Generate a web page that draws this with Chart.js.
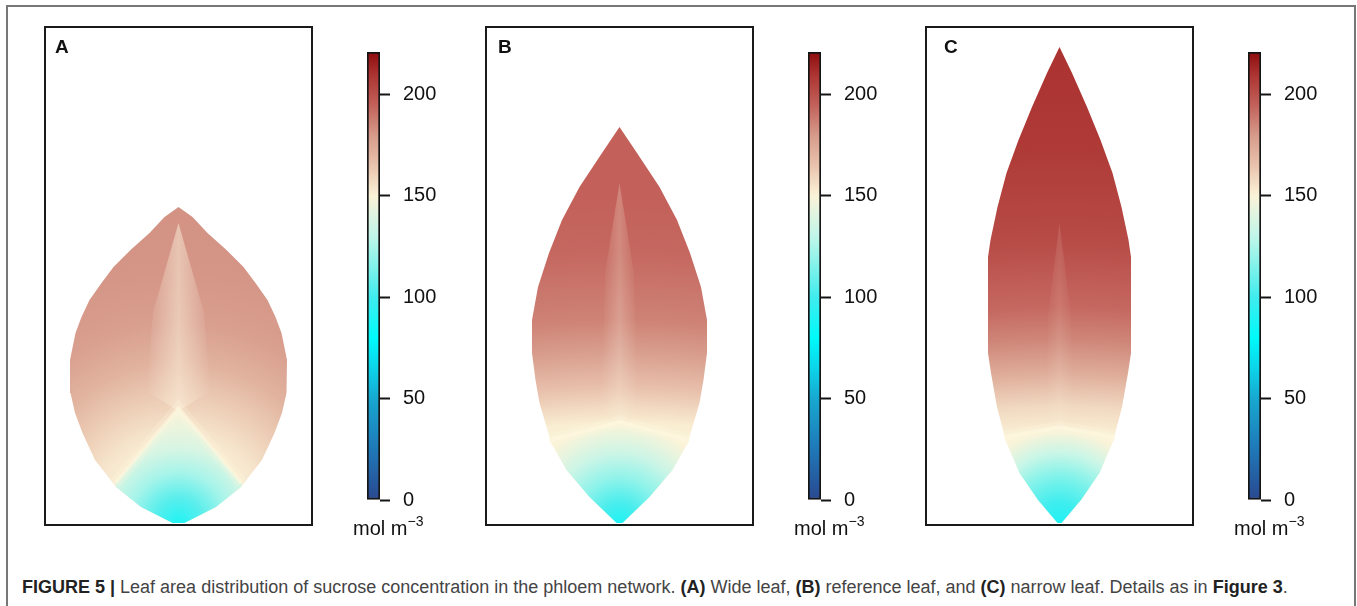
<!DOCTYPE html>
<html>
<head>
<meta charset="utf-8">
<script src="https://cdn.jsdelivr.net/npm/chart.js@4.4.1/dist/chart.umd.min.js"></script>
<style>
  body { margin: 0; background: #fff; width: 1357px; height: 606px; overflow: hidden; position: relative;
         font-family: "Liberation Sans", Arial, sans-serif; }
  .frame { position: absolute; left: 6px; top: 5px; width: 1346px; height: 700px; border: 2px solid #777; }
  .box { position: absolute; }
  .letter { position: absolute; font-weight: bold; font-size: 19px; line-height: 1; color: #111; }
  .unit { position: absolute; font-size: 20px; line-height: 1; color: #111; white-space: nowrap; }
  .unit sup { font-size: 14px; position: relative; top: -9px; vertical-align: baseline; }
  .caption { position: absolute; left: 22px; top: 578px; font-size: 18px; line-height: 1; color: #444; white-space: nowrap; }
  .caption b { color: #222; }
</style>
</head>
<body>
<div class="frame"></div>

<div class="box" style="left:42px;top:24px"><canvas id="leaf-a" width="273" height="504"></canvas></div>
<div class="box" style="left:483px;top:24px"><canvas id="leaf-b" width="273" height="504"></canvas></div>
<div class="box" style="left:923px;top:24px"><canvas id="leaf-c" width="273" height="504"></canvas></div>

<div class="box" style="left:362px;top:40px"><canvas id="bar-a" width="110" height="480"></canvas></div>
<div class="box" style="left:803px;top:40px"><canvas id="bar-b" width="110" height="480"></canvas></div>
<div class="box" style="left:1243px;top:40px"><canvas id="bar-c" width="110" height="480"></canvas></div>

<div class="letter" style="left:55px;top:37px">A</div>
<div class="letter" style="left:498px;top:37px">B</div>
<div class="letter" style="left:944px;top:37px">C</div>

<div class="unit" style="left:353px;top:518px">mol m<sup>−3</sup></div>
<div class="unit" style="left:794px;top:518px">mol m<sup>−3</sup></div>
<div class="unit" style="left:1234px;top:518px">mol m<sup>−3</sup></div>

<div class="caption"><b>FIGURE 5 |</b> Leaf area distribution of sucrose concentration in the phloem network. <b>(A)</b> Wide leaf, <b>(B)</b> reference leaf, and <b>(C)</b> narrow leaf. Details as in <b>Figure 3</b>.</div>

<script>
// Figura 5: concentración de sacarosa sobre la hoja (tres formas) + barras de color

// escala de color (mol m-3)
const cmapValues = [0, 25, 50, 65, 80, 100, 115, 130, 150, 165, 180, 195, 210, 221];
const cmapColors = ['#2a4890', '#1f78b8', '#17a8d0', '#0cd4ea', '#00fafa', '#40ecee', '#80f2ea',
                    '#c0f6ea', '#fbf3d8', '#e9c3ad', '#d69a8a', '#c26059', '#ab3331', '#8e0c0e'];
const cbarTicks = [0, 50, 100, 150, 200];
const cbarMax = 221;

// contorno de cada hoja: altura sobre la base y semiancho
const leafA_h = [0, 16, 36, 63, 90, 110, 130, 163, 190, 206, 223, 240, 256, 273, 290, 306, 316];
const leafA_w = [6, 37.5, 62.5, 83.5, 96, 103.5, 108, 108.5, 103, 97, 89, 77, 65, 48, 29, 14, 0];
const leafB_h = [0, 26, 53, 86, 120, 143, 170, 203, 236, 270, 303, 336, 370, 396];
const leafB_w = [3, 30, 53, 70, 80, 84, 87.5, 87.5, 81.5, 70.5, 57.5, 40, 17.5, 0];
const leafC_h = [0, 23, 50, 83, 116, 150, 170, 216, 266, 283, 316, 350, 383, 416, 450, 476];
const leafC_w = [2, 21.5, 40, 54, 62.5, 68.5, 71.5, 71.5, 71.5, 69, 62, 53, 41, 27.5, 12.5, 0];

// zona baja (en V) junto al pecíolo: vértice, extremo lateral (x, altura)
const coneA = [115, 63, 40];
const coneB = [101, 70, 83];
const coneC = [96, 55, 86];

// perfiles de concentración: distancia desde la base -> valor
const innerA_d = [0, 25, 50, 75, 100, 118];
const innerA_v = [90, 106, 124, 138, 146, 150];
const outerA_d = [60, 90, 120, 160, 200, 250, 320];
const outerA_v = [150, 154, 161, 171, 178, 181, 182];

const innerB_d = [0, 20, 45, 70, 90, 101];
const innerB_v = [90, 102, 119, 134, 145, 150];
const outerB_d = [83, 100, 113, 136, 170, 203, 270, 330, 396];
const outerB_v = [150, 152, 157, 166, 178, 186, 193, 195, 195];

const innerC_d = [0, 20, 45, 70, 90, 96];
const innerC_v = [90, 99, 114, 133, 148, 150];
const outerC_d = [86, 116, 150, 183, 216, 283, 383, 476];
const outerC_v = [150, 158, 173, 185, 193, 202, 208, 210];

// nervio central (tramo más claro): desde, hasta
const midA = [112, 300];
const midB = [97, 340];
const midC = [92, 300];

Chart.defaults.font.family = '"Liberation Sans", Arial, sans-serif';
Chart.defaults.animation = false;

function hexRgb(h) {
  return [1, 3, 5].map(i => parseInt(h.slice(i, i + 2), 16));
}

function cmap(v) {
  let i = 0;
  while (i < cmapValues.length - 2 && v > cmapValues[i + 1]) i++;
  const t = Math.max(0, Math.min(1, (v - cmapValues[i]) / (cmapValues[i + 1] - cmapValues[i])));
  const a = hexRgb(cmapColors[i]), b = hexRgb(cmapColors[i + 1]);
  const c = a.map((x, k) => Math.round(x + (b[k] - x) * t));
  return `rgb(${c[0]},${c[1]},${c[2]})`;
}

// degradado radial con centro bajo la base (offset grande = casi bandas horizontales)
function radial(chart, dist, vals, offset) {
  if (!chart.chartArea) return cmap(vals[0]);
  const { x, y } = chart.scales;
  const unit = y.getPixelForValue(0) - y.getPixelForValue(1);
  const cx = x.getPixelForValue(0);
  const cy = y.getPixelForValue(0) + offset * unit;
  const dmax = offset + dist[dist.length - 1];
  const g = chart.ctx.createRadialGradient(cx, cy, 0, cx, cy, dmax * unit);
  dist.forEach((d, i) => g.addColorStop((offset + d) / dmax, cmap(vals[i])));
  return g;
}

// banda clara horizontal (transparente en los bordes)
function ribFill(chart, half, alpha) {
  if (!chart.chartArea) return 'rgba(0,0,0,0)';
  const x = chart.scales.x;
  const g = chart.ctx.createLinearGradient(x.getPixelForValue(-half), 0, x.getPixelForValue(half), 0);
  g.addColorStop(0, 'rgba(252,244,224,0)');
  g.addColorStop(0.5, `rgba(252,244,224,${alpha})`);
  g.addColorStop(1, 'rgba(252,244,224,0)');
  return g;
}

function outline(h, w) {
  const left = h.map((y, i) => ({ x: -w[i], y }));
  const right = h.map((y, i) => ({ x: w[i], y })).reverse();
  return left.concat(right);
}

function conePoints(h, w, cone) {
  const [apex, ex, eh] = cone;
  const low = h.map((y, i) => ({ x: w[i], y })).filter(p => p.y < eh);
  const left = low.slice().reverse().map(p => ({ x: -p.x, y: p.y }));
  return [{ x: 0, y: apex }, { x: -ex, y: eh }, ...left, ...low, { x: ex, y: eh }];
}

function ribPoints(mid, half) {
  const [h0, h1] = mid;
  return [{ x: 0, y: h0 }, { x: -half, y: h0 + 20 }, { x: -half * 0.8, y: h1 - 90 }, { x: 0, y: h1 },
          { x: half * 0.8, y: h1 - 90 }, { x: half, y: h0 + 20 }];
}

const boxBorder = {
  id: 'boxBorder',
  afterDraw(chart) {
    const { ctx, chartArea: a } = chart;
    ctx.save();
    ctx.strokeStyle = '#1a1a1a';
    ctx.lineWidth = 2;
    ctx.strokeRect(a.left, a.top, a.right - a.left, a.bottom - a.top);
    ctx.restore();
  }
};

function renderLeaf(id, h, w, cone, inner, outer, offset, mid, ribHalf, ribAlpha, veinAlpha) {
  const poly = { type: 'scatter', showLine: true, pointRadius: 0, borderWidth: 0, fill: 'shape' };
  const vein = [{ x: -cone[1], y: cone[2] }, { x: 0, y: cone[0] }, { x: cone[1], y: cone[2] }];
  const veinLine = (width, alpha, order) => ({
    type: 'scatter', showLine: true, pointRadius: 0, fill: false, borderWidth: width,
    borderColor: `rgba(253,247,222,${alpha})`, order, data: vein
  });
  new Chart(document.getElementById(id), {
    type: 'scatter',
    data: {
      datasets: [
        { ...poly, order: 6, data: outline(h, w), backgroundColor: c => radial(c.chart, outer[0], outer[1], offset) },
        { ...poly, order: 5, data: conePoints(h, w, cone), backgroundColor: c => radial(c.chart, inner[0], inner[1], 0) },
        { ...poly, order: 4, data: ribPoints(mid, ribHalf), backgroundColor: c => ribFill(c.chart, ribHalf, ribAlpha) },
        veinLine(12, veinAlpha * 0.4, 3),
        veinLine(4, veinAlpha, 2)
      ]
    },
    options: {
      responsive: false,
      layout: { padding: 3 },
      plugins: { legend: { display: false }, tooltip: { enabled: false } },
      scales: {
        x: { type: 'linear', min: -133.5, max: 133.5, display: false },
        y: { type: 'linear', min: -2, max: 496, display: false }
      }
    },
    plugins: [boxBorder]
  });
}

function renderColorbar(id) {
  new Chart(document.getElementById(id), {
    type: 'bar',
    data: {
      labels: [''],
      datasets: [{
        data: [[0, cbarMax]],
        barPercentage: 1, categoryPercentage: 1,
        borderWidth: 2, borderColor: '#151515', borderSkipped: false,
        backgroundColor: c => {
          const ch = c.chart;
          if (!ch.chartArea) return cmap(150);
          const y = ch.scales.y;
          const g = ch.ctx.createLinearGradient(0, y.getPixelForValue(0), 0, y.getPixelForValue(cbarMax));
          cmapValues.forEach((v, i) => g.addColorStop(v / cbarMax, cmapColors[i]));
          return g;
        }
      }]
    },
    options: {
      responsive: false,
      layout: { padding: { left: 5, top: 12, bottom: 20, right: 0 } },
      plugins: { legend: { display: false }, tooltip: { enabled: false } },
      scales: {
        x: { display: false },
        y: {
          position: 'right', min: 0, max: cbarMax,
          afterFit: s => { s.width = 92; s.paddingTop = 0; s.paddingBottom = 0; },
          afterBuildTicks: s => { s.ticks = cbarTicks.map(v => ({ value: v })); },
          border: { display: false },
          grid: { drawOnChartArea: false, drawTicks: true, tickLength: 10, tickWidth: 2, tickColor: '#151515' },
          ticks: { color: '#111', font: { size: 20 }, padding: 13 }
        }
      }
    }
  });
}

renderLeaf('leaf-a', leafA_h, leafA_w, coneA, [innerA_d, innerA_v], [outerA_d, outerA_v], 0, midA, 32, 0.5, 0.6);
renderLeaf('leaf-b', leafB_h, leafB_w, coneB, [innerB_d, innerB_v], [outerB_d, outerB_v], 600, midB, 18, 0.25, 0.75);
renderLeaf('leaf-c', leafC_h, leafC_w, coneC, [innerC_d, innerC_v], [outerC_d, outerC_v], 600, midC, 14, 0.12, 0.7);

renderColorbar('bar-a');
renderColorbar('bar-b');
renderColorbar('bar-c');
</script>
</body>
</html>
